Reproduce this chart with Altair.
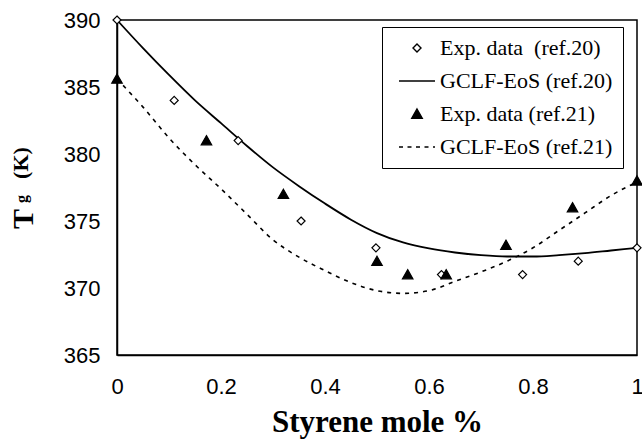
import altair as alt
import pandas as pd

# ---- data ----
SERIES = ["Exp. data\u00a0 (ref.20)", "GCLF-EoS (ref.20)", "Exp. data (ref.21)", "GCLF-EoS (ref.21)"]

exp20_x = [0.0, 0.11, 0.233, 0.354, 0.498, 0.624, 0.78, 0.887, 1.0]
exp20_y = [390, 384, 381, 375, 373, 371, 371, 372, 373]

exp21_x = [0.0, 0.172, 0.32, 0.50, 0.559, 0.633, 0.748, 0.876, 1.0]
exp21_y = [385.6, 381, 377, 372, 371, 371, 373.2, 376, 378]

curve_x = [0.0, 0.05, 0.1, 0.15, 0.2, 0.25, 0.3, 0.35, 0.4, 0.45, 0.5,
           0.55, 0.6, 0.65, 0.7, 0.75, 0.8, 0.85, 0.9, 0.95, 1.0]
gclf20_y = [390.0, 387.9, 385.9, 384.0, 382.3, 380.6, 379.0, 377.6, 376.3, 375.1, 374.1,
            373.4, 372.95, 372.65, 372.45, 372.35, 372.35, 372.45, 372.6, 372.8, 373.0]
gclf21_y = [385.6, 383.5, 381.2, 379.2, 377.4, 375.5, 373.6, 372.3, 371.3, 370.4, 369.8,
            369.6, 369.8, 370.5, 371.2, 372.0, 373.0, 374.3, 375.6, 376.9, 377.9]

y_ticks = [365, 370, 375, 380, 385, 390]
x_ticks = [0, 0.2, 0.4, 0.6, 0.8, 1.0]

# ---- tables ----
pts = pd.DataFrame({
    "x": exp20_x + exp21_x,
    "y": exp20_y + exp21_y,
    "series": [SERIES[0]] * len(exp20_x) + [SERIES[2]] * len(exp21_x),
})
c20 = pd.DataFrame({"x": curve_x, "y": gclf20_y})
c21 = pd.DataFrame({"x": curve_x, "y": gclf21_y})

X = alt.X("x:Q", scale=alt.Scale(domain=[0, 1], nice=False, zero=False),
          axis=alt.Axis(values=x_ticks, format="~g", title="Styrene mole %", labelFlush=False))
Y = alt.Y("y:Q", scale=alt.Scale(domain=[365, 390], nice=False, zero=False),
          axis=alt.Axis(values=y_ticks, title=None, labelFlush=False))

diamond = "M0,-0.8L0.8,0L0,0.8L-0.8,0Z"
hline = "M-3.6,0L3.6,0"
triangle = "M0,-1L1.05,0.85L-1.05,0.85Z"
dashed = "M-3.6,0L-2.8,0M-1.9,0L-1.1,0M-0.2,0L0.6,0M1.5,0L2.3,0M3.2,0L3.6,0"

leg = alt.Legend(
    orient="none", legendX=265, legendY=7, title=None,
    labelFont="Liberation Serif", labelFontSize=22, labelColor="black",
    symbolSize=100, symbolStrokeColor="black", symbolStrokeWidth=1.4, symbolOpacity=1,
    symbolOffset=14, labelOffset=12, padding=10, rowPadding=11,
    strokeColor="black", fillColor="white", labelLimit=400,
)

line20 = alt.Chart(c20).mark_line(color="black", strokeWidth=1.8, interpolate="monotone").encode(x=X, y=Y)
line21 = alt.Chart(c21).mark_line(color="black", strokeWidth=1.6, strokeDash=[4, 5],
                                  interpolate="monotone").encode(x=X, y=Y)

points = alt.Chart(pts).mark_point(strokeWidth=1.2, opacity=1, size=100).encode(
    x=X, y=Y,
    shape=alt.Shape("series:N", scale=alt.Scale(domain=SERIES, range=[diamond, hline, triangle, dashed]),
                    legend=leg),
    fill=alt.Fill("series:N", scale=alt.Scale(domain=SERIES, range=["white", "transparent", "black", "transparent"]),
                  legend=leg),
    stroke=alt.Stroke("series:N", scale=alt.Scale(domain=SERIES, range=["black", "black", "black", "black"]),
                      legend=leg),
)

def ttl(txt, size, xv, yv):
    return alt.Chart(pd.DataFrame({"t": [txt]})).mark_text(
        font="Liberation Serif", fontWeight="bold", fontSize=size, angle=270,
        align="center", baseline="alphabetic", color="black",
    ).encode(text="t:N", x=alt.value(xv), y=alt.value(yv))

chart = alt.layer(
    line20, line21, points,
    ttl("T", 30, -84, 199),
    ttl("g", 16, -90, 179),
    ttl("(K)", 22, -89, 143),
).properties(
    width=520, height=335, autosize="none",
    padding={"left": 117, "top": 20, "right": 5, "bottom": 86},
).configure_view(
    stroke="black", strokeWidth=1.5
).configure_axis(
    grid=False, ticks=False, domainColor="black", domainWidth=1.5,
    labelFont="Liberation Sans", labelFontSize=22, labelColor="black",
    titleFont="Liberation Serif", titleFontWeight="bold", titleFontSize=31, titleColor="black",
).configure_axisY(
    labelPadding=17
).configure_axisX(
    labelPadding=21, titlePadding=10
)

chart.save("out.html", embed_options={"renderer": "svg", "actions": False})
